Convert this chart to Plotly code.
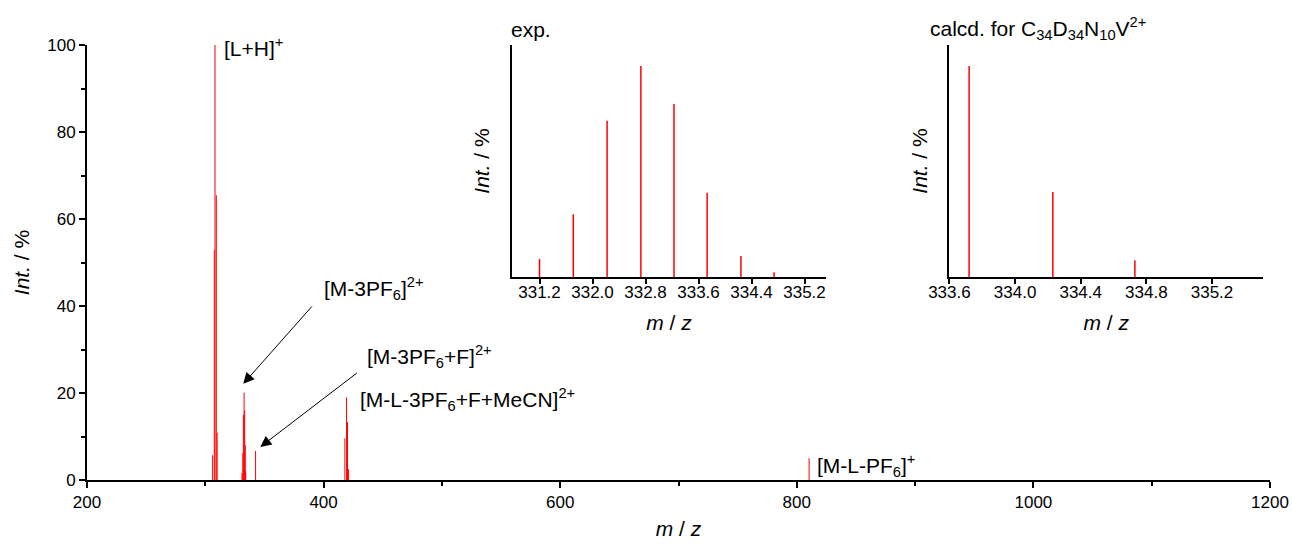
import plotly.graph_objects as go

# ---------------- data ----------------
# main spectrum: stick peaks (m/z, relative intensity %)
main_mz = [306.2, 307.6, 308.2, 309.3, 310.0,
           331.0, 331.7, 332.2, 332.8, 333.3, 333.8, 334.2,
           342.5,
           418.0, 419.4, 420.2, 421.1,
           810.4]
main_int = [5.7, 52.9, 100.0, 65.5, 10.9,
            1.6, 6.2, 15.0, 20.1, 16.0, 8.0, 2.0,
            6.7,
            9.6, 19.0, 13.3, 2.5,
            5.0]

# inset 1: experimental isotope pattern
exp_mz = [331.20, 331.71, 332.22, 332.73, 333.23, 333.73, 334.24, 334.74]
exp_int = [8.5, 29.8, 74.1, 100.0, 82.0, 39.9, 9.9, 2.2]

# inset 2: calculated isotope pattern
calc_mz = [333.72, 334.23, 334.73]
calc_int = [100.0, 40.3, 7.9]

main_ticks = [200, 400, 600, 800, 1000, 1200]
exp_ticks = [331.2, 332.0, 332.8, 333.6, 334.4, 335.2]
calc_ticks = [333.6, 334.0, 334.4, 334.8, 335.2]

FONT = "Arial, Liberation Sans, sans-serif"
TITLE_SIZE = 21
ANN_SIZE = 21


def sticks(mz, inten):
    xs, ys = [], []
    for m, i in zip(mz, inten):
        xs += [m, m, None]
        ys += [0, i, None]
    return xs, ys


fig = go.Figure()

x, y = sticks(main_mz, main_int)
fig.add_trace(go.Scatter(x=x, y=y, mode="lines", line=dict(color="#ff0000", width=1),
                         xaxis="x", yaxis="y", showlegend=False, hoverinfo="skip"))
x, y = sticks(exp_mz, exp_int)
fig.add_trace(go.Scatter(x=x, y=y, mode="lines", line=dict(color="#ff0000", width=1.5),
                         xaxis="x2", yaxis="y2", showlegend=False, hoverinfo="skip"))
x, y = sticks(calc_mz, calc_int)
fig.add_trace(go.Scatter(x=x, y=y, mode="lines", line=dict(color="#ff0000", width=1.5),
                         xaxis="x3", yaxis="y3", showlegend=False, hoverinfo="skip"))

axis_common = dict(showline=True, linecolor="black", linewidth=2, showgrid=False,
                   zeroline=False, mirror=False, automargin=False,
                   tickfont=dict(family=FONT, size=17, color="black"))

fig.update_layout(
    width=1292, height=547,
    margin=dict(l=87, r=22, t=45, b=67),
    paper_bgcolor="white", plot_bgcolor="rgba(0,0,0,0)",
    font=dict(family=FONT, size=17, color="black"),
    xaxis=dict(**axis_common, domain=[0, 1], range=[200, 1200],
               tickmode="array", tickvals=main_ticks,
               ticks="outside", ticklen=6, tickwidth=2, tickcolor="black",
               minor=dict(ticks="outside", ticklen=4, tickwidth=2, tickcolor="black", dtick=100),
               title=dict(text="<i>m</i> / <i>z</i>", font=dict(size=TITLE_SIZE), standoff=10)),
    yaxis=dict(**axis_common, domain=[0, 1], range=[0, 100],
               tickmode="linear", tick0=0, dtick=20,
               ticks="outside", ticklen=6, tickwidth=2, tickcolor="black",
               minor=dict(ticks="outside", ticklen=4, tickwidth=2, tickcolor="black", dtick=10),
               title=dict(text="<i>Int.</i> / %", font=dict(size=TITLE_SIZE), standoff=12)),
    xaxis2=dict(**axis_common, domain=[0.359, 0.625], range=[330.78, 335.53], anchor="y2",
                tickmode="array", tickvals=exp_ticks, tickformat=".1f",
                ticks="outside", ticklen=5, tickwidth=2, tickcolor="black",
                ticklabelstandoff=-6,
                title=dict(text="<i>m</i> / <i>z</i>", font=dict(size=TITLE_SIZE), standoff=14)),
    yaxis2=dict(**axis_common, domain=[0.4667, 1.0], range=[0, 110], anchor="x2",
                showticklabels=False, ticks="",
                title=dict(text="<i>Int.</i> / %", font=dict(size=TITLE_SIZE), standoff=14)),
    xaxis3=dict(**axis_common, domain=[0.729, 0.994], range=[333.6, 335.51], anchor="y3",
                tickmode="array", tickvals=calc_ticks, tickformat=".1f",
                ticks="outside", ticklen=5, tickwidth=2, tickcolor="black",
                ticklabelstandoff=-6,
                title=dict(text="<i>m</i> / <i>z</i>", font=dict(size=TITLE_SIZE), standoff=14)),
    yaxis3=dict(**axis_common, domain=[0.4667, 1.0], range=[0, 110], anchor="x3",
                showticklabels=False, ticks="",
                title=dict(text="<i>Int.</i> / %", font=dict(size=TITLE_SIZE), standoff=14)),
)

labels = [
    ("[L+H]<sup>+</sup>", 314.3, 99.5),
    ("[M-3PF<sub>6</sub>]<sup>2+</sup>", 399.0, 44.0),
    ("[M-3PF<sub>6</sub>+F]<sup>2+</sup>", 435.4, 28.5),
    ("[M-L-3PF<sub>6</sub>+F+MeCN]<sup>2+</sup>", 429.4, 18.5),
    ("[M-L-PF<sub>6</sub>]<sup>+</sup>", 815.6, 3.4),
]
for t, ax_, ay_ in labels:
    fig.add_annotation(text=t, x=ax_, y=ay_, xref="x", yref="y", xanchor="left",
                       yanchor="middle", showarrow=False, font=dict(size=ANN_SIZE, family=FONT))

# arrows
fig.add_annotation(x=332.1, y=22.1, xref="x", yref="y", text="", showarrow=True,
                   ax=70, ay=-79, arrowhead=2, arrowsize=2.2, arrowwidth=1, arrowcolor="black")
fig.add_annotation(x=346.5, y=7.6, xref="x", yref="y", text="", showarrow=True,
                   ax=98, ay=-75, arrowhead=2, arrowsize=2.2, arrowwidth=1, arrowcolor="black")

# inset titles
fig.add_annotation(text="exp.", x=0.357, y=1.035, xref="paper", yref="paper",
                   xanchor="left", yanchor="middle", showarrow=False, font=dict(size=ANN_SIZE))
fig.add_annotation(text="calcd. for C<sub>34</sub>D<sub>34</sub>N<sub>10</sub>V<sup>2+</sup>",
                   x=0.711, y=1.037, xref="paper", yref="paper",
                   xanchor="left", yanchor="middle", showarrow=False, font=dict(size=ANN_SIZE))

fig.write_html("out.html")
